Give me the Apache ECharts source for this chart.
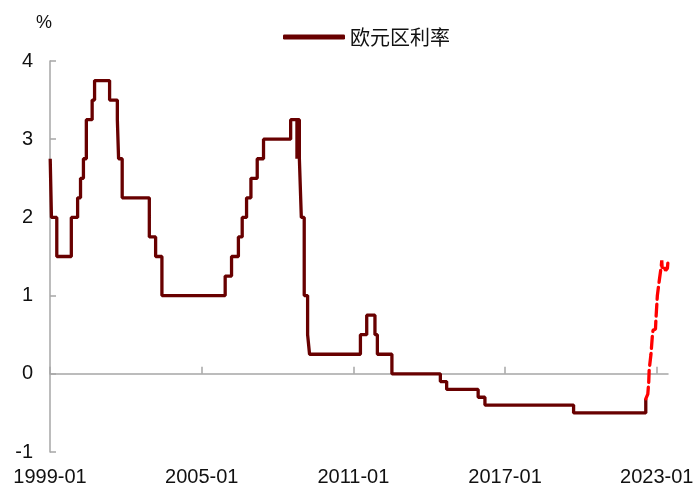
<!DOCTYPE html>
<html>
<head>
<meta charset="utf-8">
<script src="https://cdn.jsdelivr.net/npm/echarts@6/dist/echarts.min.js"></script>
<style>
  html, body { margin: 0; padding: 0; background: #fff; }
  #main { width: 700px; height: 494px; }
</style>
</head>
<body>
<div id="main"></div>
<script>
// 欧元区利率（存款便利利率），[日期, 利率%]，每次调整日
var rateSteps = [
  ['1999-01-04', 2.75], ['1999-01-22', 2.0], ['1999-04-09', 1.5], ['1999-11-05', 2.0],
  ['2000-02-04', 2.25], ['2000-03-17', 2.5], ['2000-04-28', 2.75], ['2000-06-09', 3.25],
  ['2000-09-01', 3.5], ['2000-10-06', 3.75], ['2001-05-11', 3.5], ['2001-08-31', 3.25],
  ['2001-09-18', 2.75], ['2001-11-09', 2.25], ['2002-12-06', 1.75], ['2003-03-07', 1.5],
  ['2003-06-06', 1.0], ['2005-12-06', 1.25], ['2006-03-08', 1.5], ['2006-06-15', 1.75],
  ['2006-08-09', 2.0], ['2006-10-11', 2.25], ['2006-12-13', 2.5], ['2007-03-14', 2.75],
  ['2007-06-13', 3.0], ['2008-07-09', 3.25], ['2008-10-08', 2.75], ['2008-10-09', 3.25],
  ['2008-11-12', 2.75], ['2008-12-10', 2.0], ['2009-01-21', 1.0], ['2009-03-11', 0.5],
  ['2009-04-08', 0.25], ['2011-04-13', 0.5], ['2011-07-13', 0.75], ['2011-11-09', 0.5],
  ['2011-12-14', 0.25], ['2012-07-11', 0.0], ['2014-06-11', -0.1], ['2014-09-10', -0.2],
  ['2015-12-09', -0.3], ['2016-03-16', -0.4], ['2019-09-18', -0.5], ['2022-07-27', -0.32]
];

// 红色虚线：之后的利率走势
var rateOutlook = [
  ['2022-07-27', -0.32], ['2022-08-25', -0.26], ['2022-09-08', -0.1], ['2022-09-14', 0.05],
  ['2022-10-10', 0.25], ['2022-11-02', 0.52], ['2022-11-10', 0.56], ['2022-12-14', 0.57],
  ['2022-12-21', 0.7], ['2023-01-10', 1.0], ['2023-02-08', 1.2], ['2023-03-08', 1.38],
  ['2023-03-15', 1.45], ['2023-03-22', 1.33], ['2023-04-20', 1.36], ['2023-05-10', 1.32],
  ['2023-06-05', 1.35], ['2023-06-13', 1.44]
];

var xTicks = ['1999-01-01', '2005-01-01', '2011-01-01', '2017-01-01', '2023-01-01'];
var xMin = '1999-01-01';
var xMax = '2023-06-13';

var seriesName = '欧元区利率';
var fontLatin = '"Liberation Sans", Arial, sans-serif';
var fontCjk = '"Noto Sans CJK SC", "Liberation Sans", sans-serif';

function toTime(d) { return +new Date(d + 'T00:00:00Z'); }
function toPoints(arr) { return arr.map(function (p) { return [toTime(p[0]), p[1]]; }); }

var tickTimes = xTicks.map(toTime);

function fmtMonth(v) {
  var d = new Date(v);
  var m = d.getUTCMonth() + 1;
  return d.getUTCFullYear() + '-' + (m < 10 ? '0' + m : m);
}

var myChart = echarts.init(document.getElementById('main'));

var option = {
  animation: false,
  backgroundColor: '#fff',
  title: {
    text: '%',
    left: 31,
    top: 9,
    textStyle: { fontFamily: fontLatin, fontSize: 18, fontWeight: 'normal', color: '#111' }
  },
  legend: {
    data: [seriesName],
    left: 278,
    top: 22,
    icon: 'roundRect',
    itemWidth: 62,
    itemHeight: 5,
    textStyle: { fontFamily: fontCjk, fontSize: 20, color: '#111' }
  },
  grid: { left: 50, right: 32, top: 61, bottom: 42, containLabel: false },
  xAxis: [
    {
      type: 'value',
      min: toTime(xMin),
      max: toTime(xMax),
      position: 'bottom',
      axisLine: { show: false, onZero: false },
      axisTick: { show: false },
      splitLine: { show: false },
      axisLabel: {
        customValues: tickTimes,
        formatter: fmtMonth,
        margin: 15,
        fontFamily: fontLatin,
        fontSize: 20,
        color: '#111',
        showMinLabel: true,
        showMaxLabel: true,
        hideOverlap: false
      }
    },
    {
      type: 'value',
      min: toTime(xMin),
      max: toTime(xMax),
      position: 'bottom',
      axisLine: { show: true, onZero: true, lineStyle: { color: '#a6a6a6', width: 1.5 } },
      axisTick: {
        show: true,
        inside: true,
        length: 7,
        customValues: tickTimes,
        lineStyle: { color: '#a6a6a6', width: 1.5 }
      },
      axisLabel: { show: false },
      splitLine: { show: false }
    }
  ],
  yAxis: {
    type: 'value',
    min: -1,
    max: 4,
    interval: 1,
    axisLine: { show: true, onZero: false, lineStyle: { color: '#a6a6a6', width: 1.5 } },
    axisTick: { show: true, inside: true, length: 6, lineStyle: { color: '#a6a6a6', width: 1.5 } },
    splitLine: { show: false },
    axisLabel: { margin: 17, fontFamily: fontLatin, fontSize: 20, color: '#111' }
  },
  series: [
    {
      name: seriesName,
      type: 'line',
      step: 'end',
      xAxisIndex: 0,
      symbol: 'none',
      data: toPoints(rateSteps),
      itemStyle: { color: '#680000' },
      lineStyle: { color: '#680000', width: 3.3 },
      z: 3
    },
    {
      name: '预期',
      type: 'line',
      xAxisIndex: 0,
      symbol: 'none',
      data: toPoints(rateOutlook),
      itemStyle: { color: '#ff0000' },
      lineStyle: { color: '#ff0000', width: 3.3, type: [12, 5], cap: 'round' },
      z: 4
    }
  ]
};

myChart.setOption(option);
</script>
</body>
</html>
